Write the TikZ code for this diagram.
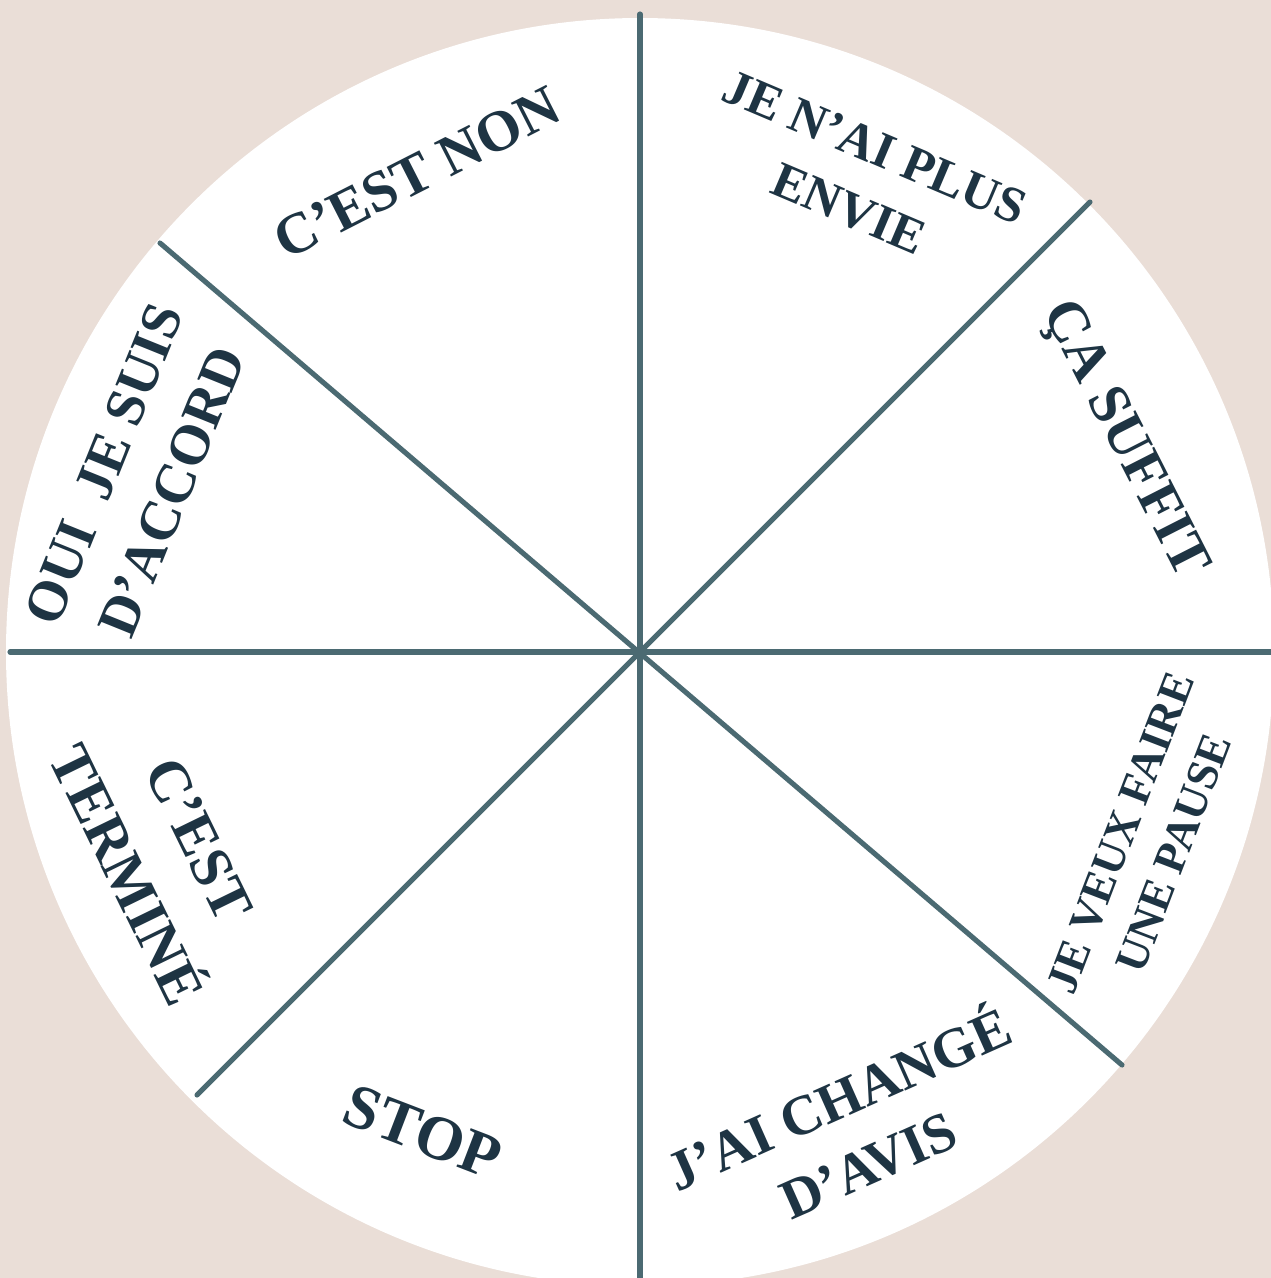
\documentclass[tikz,border=0pt]{standalone}
\usepackage{fontspec}
\setmainfont{Liberation Serif}
\usepackage{xcolor}
\usetikzlibrary{positioning}
\definecolor{bg}{HTML}{EADED7}
\definecolor{spoke}{HTML}{4B6A72}
\definecolor{ink}{HTML}{1E3443}
\newcommand{\fsz}[2]{\fontsize{#1}{#2}\selectfont\bfseries}

\begin{document}
\begin{tikzpicture}[x=0.01cm,y=-0.01cm,
  spk/.style={draw=spoke,line width=1.45pt,line cap=round},
  lbl/.style={text=ink,font=\fsz{16.4}{22},align=center,inner sep=0pt}]
  \useasboundingbox (0,0) rectangle (1271,1278);
  \clip (0,0) rectangle (1271,1278);
  \fill[bg] (0,0) rectangle (1271,1278);
  \coordinate (o) at (640,652);
  \fill[white] (o) circle[radius=634];
  % spokes
  \coordinate (n) at (640,14);
  \coordinate (s) at (640,1300);
  \coordinate (w) at (10,652);
  \coordinate (e) at (1300,652);
  \coordinate (ne) at (1090,202);
  \coordinate (sw) at (197,1095);
  \coordinate (nw) at (160,243);
  \coordinate (se) at (1122,1065);
  \draw[spk] (n) -- (s);
  \draw[spk] (w) -- (e);
  \draw[spk] (ne) -- (sw);
  \draw[spk] (nw) -- (se);
  % sector labels
  \node[lbl,rotate=27] (non) at (417,173) {C’EST NON};
  \node[lbl,rotate=-23,font=\fsz{14.4}{19}] (envie) at (862,178) {JE N’AI PLUS\\ENVIE};
  \node[lbl,rotate=-63] (suffit) at (1123,440) {ÇA SUFFIT};
  \node[lbl,rotate=69,font=\fsz{12.8}{16.2}] (pause) at (1147,843) {JE VEUX FAIRE\\UNE PAUSE};
  \node[lbl,rotate=24,font=\fsz{16}{20.5}] (avis) at (852,1128) {J’AI CHANGÉ\\D’AVIS};
  \node[lbl,rotate=-21,font=\fsz{17.8}{22}] (stop) at (423,1132) {STOP};
  \node[lbl,rotate=-64,font=\fsz{16.7}{22.8}] (fini) at (163,857) {C’EST\\TERMINÉ};
  \node[lbl,rotate=68,font=\fsz{16}{20.8}] (accord) at (138,478) {OUI\hspace{0.5em}JE SUIS\\D’ACCORD};
\end{tikzpicture}
\end{document}
